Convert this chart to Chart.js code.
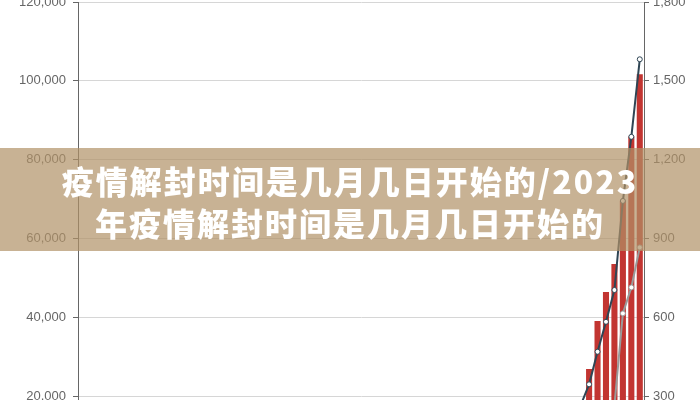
<!DOCTYPE html>
<html>
<head>
<meta charset="utf-8">
<script src="https://cdn.jsdelivr.net/npm/chart.js@4.4.1/dist/chart.umd.min.js"></script>
<style>
  html, body { margin:0; padding:0; background:#fff; width:700px; height:400px; overflow:hidden; }
  #wrap { position:absolute; left:0; top:-20px; width:700px; height:530px; }
  #banner { position:absolute; left:0; top:148px; width:700px; height:103px; background:rgba(177,146,102,0.7); }
  #title { position:absolute; left:0; top:159px; width:700px; text-align:center; color:#fff;
           font-family:"Noto Sans CJK SC","Noto Sans",sans-serif; font-weight:900; font-size:32px;
           line-height:42px; letter-spacing:2px; white-space:nowrap; }
</style>
</head>
<body>
<div id="wrap"><canvas id="c" width="700" height="530"></canvas></div>
<div id="banner"></div>
<div id="title">疫情解封时间是几月几日开始的/2023<br>年疫情解封时间是几月几日开始的</div>
<script>
const categories = [
  "1/21","1/22","1/23","1/24","1/25","1/26","1/27","1/28","1/29","1/30","1/31",
  "2/1","2/2","2/3","2/4","2/5","2/6","2/7","2/8","2/9","2/10","2/11","2/12","2/13","2/14","2/15",
  "2/16","2/17","2/18","2/19","2/20","2/21","2/22","2/23","2/24","2/25","2/26","2/27","2/28","2/29",
  "3/1","3/2","3/3","3/4","3/5","3/6","3/7","3/8","3/9","3/10","3/11","3/12","3/13","3/14","3/15",
  "3/16","3/17","3/18","3/19","3/20","3/21","3/22","3/23","3/24","3/25","3/26","3/27"
];
const barValues = [
  1,1,1,2,2,5,5,5,5,6,7,
  8,8,11,11,12,12,12,12,12,12,13,13,14,15,15,15,15,15,15,15,35,35,35,53,53,59,60,62,70,
  76,101,122,153,221,319,435,541,704,994,1301,1630,2183,2770,3613,4596,6344,9197,13779,
  18200,26900,39100,46400,53500,69600,85900,101700
];
const darkLineValues = [
  0,0,0,0,0,0,0,0,0,0,0,
  0,0,0,0,0,0,0,0,0,0,0,0,0,0,0,0,0,0,0,0,0,0,0,0,0,0,0,0,1,
  1,6,9,11,12,15,19,22,26,30,38,41,48,57,68,86,108,150,205,
  265,345,469,583,704,1043,1287,1582
];
const grayLineValues = [
  0,0,0,0,0,0,0,0,0,0,0,
  0,0,0,0,0,0,0,0,1,1,1,1,1,3,3,3,3,3,3,3,5,5,5,5,6,6,7,7,7,
  7,7,7,7,8,8,8,8,8,8,8,9,12,12,12,17,17,106,108,
  147,171,178,187,265,615,714,866
];
const leftTicks = { min:0, max:120000, step:20000 };
const rightTicks = { min:0, max:1800, step:300 };

const axisFont = { family:"'Liberation Sans', Arial, sans-serif", size:13 };

new Chart(document.getElementById('c'), {
  data: {
    labels: categories,
    datasets: [
      { type:'line', data: darkLineValues, yAxisID:'y1', order:1,
        borderColor:'#2f4554', borderWidth:2, pointRadius:2.5, pointBorderWidth:1,
        pointBackgroundColor:'#fff', pointBorderColor:'#2f4554', tension:0 },
      { type:'line', data: grayLineValues, yAxisID:'y1', order:2,
        borderColor:'#9a9a9a', borderWidth:2, pointRadius:2.5, pointBorderWidth:1,
        pointBackgroundColor:'#fff', pointBorderColor:'#9a9a9a', tension:0 },
      { type:'bar', data: barValues, yAxisID:'y', order:3,
        backgroundColor:'#c23531', barPercentage:0.72, categoryPercentage:1 }
    ]
  },
  options: {
    responsive:false, animation:false, devicePixelRatio:1,
    layout: { padding: { top:22, bottom:5, left:0, right:0 } },
    plugins: { legend:{display:false}, tooltip:{enabled:false} },
    scales: {
      x: { grid:{ display:false }, border:{ color:'#666' },
           ticks:{ font:axisFont, color:'#666', maxRotation:0, autoSkip:true },
           afterFit(s){ s.height = 30; } },
      y: { position:'left', min:leftTicks.min, max:leftTicks.max,
           ticks:{ stepSize:leftTicks.step, font:axisFont, color:'#666', padding:7 },
           grid:{ color:'#d6d6d6', tickColor:'#666', tickLength:5 },
           border:{ color:'#666' },
           afterFit(s){ s.width = 78; } },
      y1: { position:'right', min:rightTicks.min, max:rightTicks.max,
           ticks:{ stepSize:rightTicks.step, font:axisFont, color:'#666', padding:4 },
           grid:{ drawOnChartArea:false, tickColor:'#666', tickLength:5 },
           border:{ color:'#666' },
           afterFit(s){ s.width = 56; } }
    }
  }
});
</script>
</body>
</html>
